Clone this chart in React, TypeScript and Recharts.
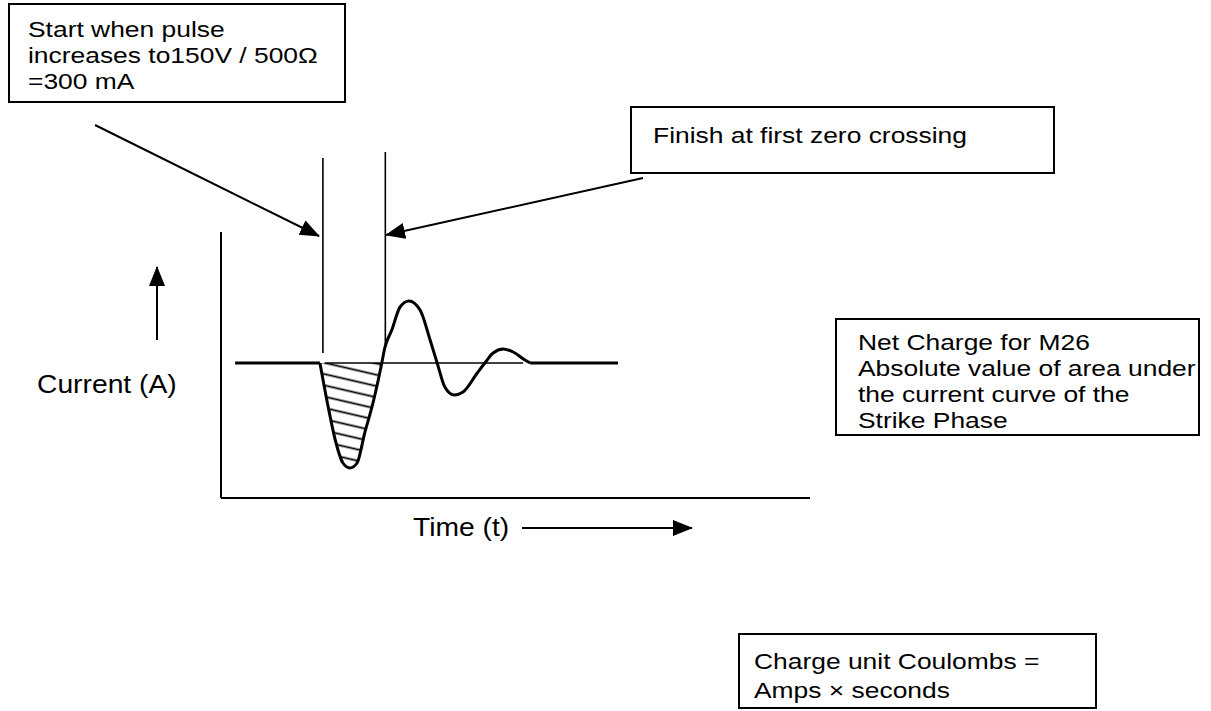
import React from 'react';
import { ComposedChart, Line, Area, XAxis, YAxis, ReferenceLine } from 'recharts';

// current pulse: time in arbitrary units, current in A (arbitrary scale)
const waveTime = [16.8, 18.2, 19.4, 20.7, 21.9, 23.1, 24.4, 25.8, 27.3, 27.8, 29.0, 30.4, 31.9, 33.8, 35.5, 36.7, 38.0, 39.6, 41.1, 43.5, 44.8, 46.2, 47.9, 49.6, 51.6, 52.5];
const waveCurrent = [0, -0.44, -0.77, -1.0, -1.05, -1.0, -0.7, -0.4, 0, 0.15, 0.33, 0.56, 0.62, 0.53, 0.23, 0, -0.24, -0.32, -0.29, -0.1, 0, 0.1, 0.14, 0.11, 0.03, 0];
// flat zero-current stretches before and after the pulse
const baselineTime = [2.4, 16.8, 52.5, 67.4];
// strike phase: from pulse start to first zero crossing
const strikeStart = 17.3;
const strikeEnd = 27.9;
const zeroLineSpan = [17.6, 51.3];
const timeDomain = [0, 100];
const currentDomain = [-1.35, 1.31];

const FONT = '"Liberation Sans", Arial, Helvetica, sans-serif';

function buildRows() {
  const times = Array.from(new Set([...waveTime, ...baselineTime])).sort((a, b) => a - b);
  return times.map((t) => {
    const i = waveTime.indexOf(t);
    const wave = i >= 0 ? waveCurrent[i] : null;
    return {
      t,
      wave,
      flat: baselineTime.includes(t) ? 0 : null,
      lobe: i >= 0 && t <= 27.3 ? wave : null,
    };
  });
}

const boxStyle: React.CSSProperties = {
  position: 'absolute',
  border: '2px solid #000',
  background: '#fff',
  boxSizing: 'border-box',
};

const textStyle: React.CSSProperties = {
  fontSize: 22,
  lineHeight: '26px',
  transform: 'scaleX(1.2)',
  transformOrigin: 'left top',
  whiteSpace: 'nowrap',
  color: '#000',
};

const labelStyle: React.CSSProperties = {
  ...textStyle,
  fontSize: 25,
  lineHeight: '29px',
  transform: 'scaleX(1.13)',
};

function Note({ left, top, width, height, padL, padT, pitch, lines }: { left: number; top: number; width: number; height: number; padL: number; padT: number; pitch: number; lines: string[] }) {
  return (
    <div style={{ ...boxStyle, left, top, width, height, paddingLeft: padL, paddingTop: padT }}>
      <div style={{ ...textStyle, lineHeight: `${pitch}px` }}>
        {lines.map((l) => (
          <div key={l}>{l}</div>
        ))}
      </div>
    </div>
  );
}

export default function App() {
  const rows = buildRows();
  const [t0, t1] = timeDomain;
  const [c0, c1] = currentDomain;
  return (
    <div style={{ position: 'absolute', left: 0, top: 0, width: 1211, height: 711, background: '#fff', fontFamily: FONT, overflow: 'hidden' }}>
      <div style={{ position: 'absolute', left: 0, top: 0 }}>
        <ComposedChart width={1211} height={711} data={rows} margin={{ top: 232, right: 401, bottom: 213, left: 221 }}>
          <defs>
            <pattern id="hatch" width={14} height={11} patternUnits="userSpaceOnUse" patternTransform="rotate(13)">
              <line x1={0} y1={5.5} x2={14} y2={5.5} stroke="#000" strokeWidth={1.8} />
            </pattern>
          </defs>
          <XAxis type="number" dataKey="t" domain={timeDomain} allowDataOverflow hide />
          <YAxis type="number" domain={currentDomain} allowDataOverflow hide />
          {/* L-shaped axes */}
          <ReferenceLine segment={[{ x: t0, y: c0 }, { x: t1, y: c0 }]} ifOverflow="visible" stroke="#000" strokeWidth={2} />
          <ReferenceLine segment={[{ x: t0, y: c0 }, { x: t0, y: c1 }]} ifOverflow="visible" stroke="#000" strokeWidth={2} />
          <Area dataKey="lobe" type="monotone" baseValue={0} stroke="none" fill="url(#hatch)" fillOpacity={1} connectNulls={false} isAnimationActive={false} />
          <ReferenceLine segment={[{ x: zeroLineSpan[0], y: 0 }, { x: zeroLineSpan[1], y: 0 }]} stroke="#000" strokeWidth={1.3} />
          <Line dataKey="flat" type="linear" stroke="#000" strokeWidth={3} dot={false} activeDot={false} connectNulls={false} isAnimationActive={false} />
          <Line dataKey="wave" type="monotone" stroke="#000" strokeWidth={3} dot={false} activeDot={false} connectNulls={false} isAnimationActive={false} />
          <ReferenceLine segment={[{ x: strikeStart, y: 2.05 }, { x: strikeStart, y: 0.1 }]} ifOverflow="visible" stroke="#000" strokeWidth={1.6} />
          <ReferenceLine segment={[{ x: strikeEnd, y: 2.11 }, { x: strikeEnd, y: 0.16 }]} ifOverflow="visible" stroke="#000" strokeWidth={1.6} />
        </ComposedChart>
      </div>

      <svg width={1211} height={711} style={{ position: 'absolute', left: 0, top: 0, pointerEvents: 'none' }}>
        <defs>
          <marker id="head" markerUnits="userSpaceOnUse" markerWidth={20} markerHeight={18} refX={19} refY={9} orient="auto">
            <path d="M0,1 L20,9 L0,17 z" fill="#000" />
          </marker>
        </defs>
        <line x1={95} y1={125} x2={319} y2={236} stroke="#000" strokeWidth={2} markerEnd="url(#head)" />
        <line x1={643} y1={178} x2={386} y2={235} stroke="#000" strokeWidth={2} markerEnd="url(#head)" />
        <line x1={157} y1={340} x2={157} y2={267} stroke="#000" strokeWidth={2} markerEnd="url(#head)" />
        <line x1={522} y1={528} x2={692} y2={528} stroke="#000" strokeWidth={2} markerEnd="url(#head)" />
      </svg>

      <Note left={8} top={3} width={338} height={100} padL={18} padT={12} pitch={26} lines={['Start when pulse', 'increases to150V / 500\u03A9', '=300 mA']} />
      <Note left={630} top={106} width={425} height={68} padL={21} padT={15} pitch={26} lines={['Finish at first zero crossing']} />
      <Note left={835} top={318} width={365} height={118} padL={21} padT={10} pitch={26} lines={['Net Charge for M26', 'Absolute value of area under', 'the current curve of the', 'Strike Phase']} />
      <Note left={738} top={633} width={359} height={76} padL={14} padT={12} pitch={29} lines={['Charge unit Coulombs =', 'Amps \u00D7 seconds']} />

      <div style={{ position: 'absolute', left: 37, top: 370, ...labelStyle }}>Current (A)</div>
      <div style={{ position: 'absolute', left: 413, top: 513, ...labelStyle }}>Time (t)</div>
    </div>
  );
}
